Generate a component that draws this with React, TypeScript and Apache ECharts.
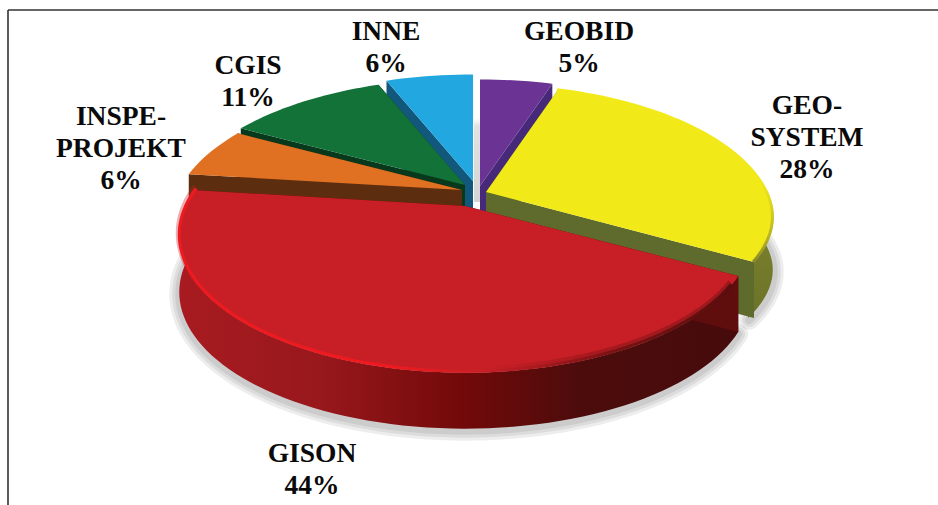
import React, { useEffect, useRef } from "react";
import * as echarts from "echarts";

// ---- data (clockwise from 12 o'clock) ----
const categories = ["GEOBID", "GEO-SYSTEM", "GISON", "INSPE-PROJEKT", "CGIS", "INNE"];
const shares = [5, 28, 44, 6, 11, 6];
const labelTexts = ["GEOBID\n5%", "GEO-\nSYSTEM\n28%", "GISON\n44%", "INSPE-\nPROJEKT\n6%", "CGIS\n11%", "INNE\n6%"];

// ---- presentation ----
const R = 283;
const RT = 130;
const K = 0.22;
const DEPTH = 56;
const apexes = [[480, 186], [486, 192], [465, 206], [462, 190], [465, 185], [473, 181]];
const widthScale = [1, 0.995, 0.985, 1, 1, 1];
const labelCentres = [[579, 46], [807, 136], [312, 468], [121, 147], [248, 80], [386, 46]];
const topColors = ["#6b3394", "#f2ea18", "#c81f26", "#e07022", "#127238", "#22a7e0"];
const cutColors = ["#47297a", "#5f6b2c", "#5f0d0d", "#5c2d0e", "#08391c", "#12587c"];
const drawOrder = [0, 5, 4, 3, 1, 2];
const shadowWidths = [20, 14, 8];
const FONT = '"Liberation Serif", "Times New Roman", serif';

function project(apex: number[], deg: number, scale: number) {
  const a = (deg * Math.PI) / 180;
  const u = Math.sin(a);
  const v = Math.cos(a);
  const p = 1 / (1 + K * v);
  return [apex[0] + R * scale * u * p, apex[1] - RT * v * p];
}
function arcPoints(apex: number[], from: number, to: number, scale: number) {
  const out: number[][] = [];
  const n = Math.max(8, Math.ceil(Math.abs(to - from) / 2));
  for (let i = 0; i <= n; i++) out.push(project(apex, from + ((to - from) * i) / n, scale));
  return out;
}
const down = (pt: number[]) => [pt[0], pt[1] + DEPTH];
const hGrad = (stops: [number, string][]) =>
  new echarts.graphic.LinearGradient(0, 0, 1, 0, stops.map(([offset, color]) => ({ offset, color })));
const vGrad = (stops: [number, string][]) =>
  new echarts.graphic.LinearGradient(0, 0, 0, 1, stops.map(([offset, color]) => ({ offset, color })));

const total = shares.reduce((s, x) => s + x, 0);
const starts: number[] = [];
shares.reduce((acc, x, i) => {
  starts[i] = acc;
  return acc + x;
}, 0);

// softens the sharp outer corner at the end of a slice, as the bevel in the picture does
function tuck(points: number[][], amount: number) {
  const n = points.length - 1;
  return points.map((p, i) => {
    const t = Math.max(0, (i / n - 0.72) / 0.28);
    return [p[0] - amount * t * t, p[1]];
  });
}

function renderSlice(_: any, api: any) {
  const idx = api.value(0) as number;
  const share = api.value(1) as number;
  const startDeg = (starts[idx] / total) * 360;
  const endDeg = startDeg + (share / total) * 360;
  const apex = apexes[idx];
  const rawArc = arcPoints(apex, startDeg, endDeg, widthScale[idx]);
  const arc = idx === 1 ? tuck(rawArc, 8) : rawArc;
  const first = arc[0];
  const last = arc[arc.length - 1];
  const children: any[] = [];
  const wallQuad = (pt: number[]) => ({
    type: "polygon",
    shape: { points: [apex, pt, down(pt), down(apex)] },
    style: { fill: cutColors[idx] },
  });

  if (idx === 1 || idx === 2) {
    const wallFill =
      idx === 2
        ? hGrad([
            [0, "#a81b20"],
            [0.25, "#98181c"],
            [0.52, "#700909"],
            [0.72, "#4c0c0c"],
            [1, "#470b0b"],
          ])
        : vGrad([
            [0, "#8e8e2e"],
            [0.6, "#7c802c"],
            [1, "#6b7329"],
          ]);
    const lower = (idx === 1 ? tuck(rawArc, 14) : arc).map(down);
    // soft shadow on the page under the lower edge
    const shadowLine = lower
      .filter((p) => idx === 1 || p[1] > apex[1] + DEPTH - 10)
      .map((p) => [p[0] + (idx === 1 ? 1 : 0), p[1] + 2]);
    shadowWidths.forEach((w) => {
      children.push({
        type: "polyline",
        shape: { points: shadowLine },
        style: { fill: null, stroke: "#000000", opacity: 0.07, lineWidth: w, lineCap: "round", lineJoin: "round" },
      });
    });
    children.push({
      type: "polygon",
      shape: { points: [...arc, ...lower.slice().reverse()] },
      style: { fill: wallFill },
    });
  }
  children.push(wallQuad(first), wallQuad(last));

  children.push({
    type: "polygon",
    shape: { points: [apex, ...arc] },
    style: { fill: topColors[idx] },
  });

  if (idx === 2) {
    const rim = arc.slice(2);
    children.push(
      {
        type: "polyline",
        shape: { points: rim.map((p) => [p[0], p[1] - 3]) },
        style: {
          fill: null,
          lineWidth: 7,
          opacity: 0.35,
          stroke: hGrad([
            [0, "#c81f26"],
            [0.55, "#c81f26"],
            [0.75, "#6a0e10"],
            [1, "#4a0b0b"],
          ]),
        },
      },
      {
        type: "polyline",
        shape: { points: rim.map((p) => [p[0], p[1] - 1.5]) },
        style: {
          fill: null,
          lineWidth: 3,
          stroke: hGrad([
            [0, "#ee1a20"],
            [0.38, "#ee1a20"],
            [0.55, "#c81f26"],
            [0.78, "#7a1214"],
            [1, "#5a0e0e"],
          ]),
        },
      },
    );
  }
  if (idx === 1) {
    children.push({
      type: "polyline",
      shape: { points: arc.map((p) => [p[0] - 1, p[1]]) },
      style: {
        fill: null,
        lineWidth: 3,
        stroke: vGrad([
          [0, "#f2ea18"],
          [0.55, "#f0e81c"],
          [0.85, "#b8b424"],
          [1, "#8a8a2c"],
        ]),
      },
    });
  }
  children.push({
    type: "text",
    x: labelCentres[idx][0],
    y: labelCentres[idx][1],
    z2: 50,
    style: {
      text: labelTexts[idx],
      fontFamily: FONT,
      fontWeight: "bold",
      fontSize: 27.5,
      lineHeight: 32,
      fill: "#0a0a0a",
      align: "center",
      verticalAlign: "middle",
    },
  });
  return { type: "group", children };
}

export default function App() {
  const ref = useRef<HTMLDivElement>(null);
  useEffect(() => {
    const chart = echarts.init(ref.current!, undefined, { renderer: "svg" });
    const frame = { stroke: "#333333", lineWidth: 1.6 };
    chart.setOption({
      animation: false,
      backgroundColor: "#ffffff",
      graphic: [
        { type: "line", shape: { x1: 8, y1: 10, x2: 938, y2: 10 }, style: frame },
        { type: "line", shape: { x1: 8, y1: 10, x2: 8, y2: 505 }, style: frame },
        {
          type: "rect",
          shape: { x: 474, y: 118, width: 6, height: 84 },
          style: {
            fill: new echarts.graphic.LinearGradient(0, 0, 0, 1, [
              { offset: 0, color: "#ffffff" },
              { offset: 0.1, color: "#e2e2e2" },
              { offset: 1, color: "#d4d4d4" },
            ]),
          },
        },
      ],
      series: [
        {
          type: "custom",
          coordinateSystem: "none",
          silent: true,
          renderItem: renderSlice,
          data: drawOrder.map((i) => ({ name: categories[i], value: [i, shares[i]] })),
        },
      ],
    });
    return () => chart.dispose();
  }, []);
  return <div ref={ref} style={{ position: "absolute", left: 0, top: 0, width: 938, height: 505 }} />;
}
